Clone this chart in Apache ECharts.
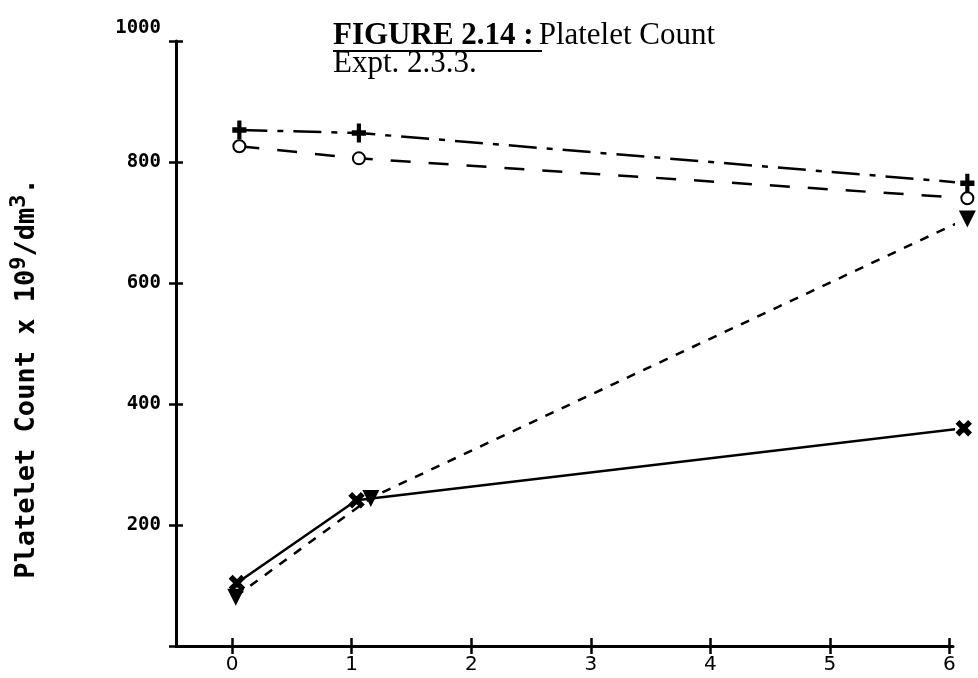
<!DOCTYPE html>
<html>
<head>
<meta charset="utf-8">
<title>Platelet Count</title>
<script src="https://cdn.jsdelivr.net/npm/echarts@6/dist/echarts.min.js"></script>
<style>
  html, body { margin: 0; padding: 0; background: #fff; }
  #chart { width: 978px; height: 678px; }
</style>
</head>
<body>
<div id="chart"></div>
<script>
// values (x = time, y = platelet count x 10^9/dm^3)
const xTicks = [0, 1, 2, 3, 4, 5, 6]
const yTicks = [0, 200, 400, 600, 800, 1000]

const plusPts = [[0.06, 853], [1.06, 848], [6.15, 765]]
const circlePts = [[0.06, 826], [1.06, 806], [6.15, 740]]
const trianglePts = [[0.03, 82], [1.16, 245], [6.15, 707]]
const crossPts = [[0.04, 104], [1.04, 241], [6.12, 360]]

const PLUS = 'path://M5,0H7V5H12V7H7V12H5V7H0V5H5Z'
const CROSS = 'path://M0,2L2,0L6,4L10,0L12,2L8,6L12,10L10,12L6,8L2,12L0,10L4,6Z'

const chart = echarts.init(document.getElementById('chart'))

const axisLine = { show: true, onZero: false, lineStyle: { color: '#000', width: 3 } }
const tickStyle = { color: '#000', width: 2.5 }

function lineSeries(data, symbol, size, dash, extra) {
  return Object.assign({
    type: 'line',
    data: data,
    symbol: symbol,
    symbolSize: size,
    clip: false,
    lineStyle: { color: '#000', width: 2.5, type: dash },
    itemStyle: { color: '#000', borderColor: '#000', borderWidth: 2.5 },
    emphasis: { disabled: true },
    z: 3
  }, extra || {})
}

const option = {
  backgroundColor: '#fff',
  animation: false,
  title: {
    left: 333,
    top: 22,
    padding: 0,
    text: '{b|FIGURE 2.14 :} {n|Platelet Count}\n{n|Expt. 2.3.3.}',
    textStyle: {
      rich: {
        b: { fontFamily: 'Liberation Serif', fontWeight: 'bold', fontSize: 31, lineHeight: 28, color: '#000' },
        n: { fontFamily: 'Liberation Serif', fontWeight: 'normal', fontSize: 31, lineHeight: 28, color: '#000' }
      }
    }
  },
  graphic: [{
    // underline of the figure number
    type: 'rect',
    shape: { x: 333, y: 50, width: 209, height: 2 },
    style: { fill: '#000' }
  }],
  grid: { left: 172, top: 41, right: 25, bottom: 32, containLabel: false },
  xAxis: [{
    type: 'value',
    min: -0.47,
    max: 6.03,
    axisLine: axisLine,
    splitLine: { show: false },
    axisTick: { show: true, customValues: xTicks, length: 8, lineStyle: tickStyle },
    axisLabel: {
      customValues: xTicks,
      margin: 9,
      color: '#000',
      fontFamily: 'DejaVu Sans',
      fontSize: 20
    }
  }, {
    type: 'value',
    position: 'bottom',
    min: -0.47,
    max: 6.03,
    axisLine: { show: false, onZero: false },
    splitLine: { show: false },
    axisTick: { show: true, inside: true, customValues: xTicks, length: 8, lineStyle: tickStyle },
    axisLabel: { show: false }
  }],
  yAxis: [{
    type: 'value',
    min: 0,
    max: 1000,
    interval: 200,
    axisLine: axisLine,
    splitLine: { show: false },
    axisTick: { show: true, length: 7, lineStyle: tickStyle },
    axisLabel: {
      margin: 15,
      formatter: v => v === 0 ? '' : (v === 1000 ? '{t|' + v + '}' : '{n|' + v + '}'),
      rich: {
        n: { fontFamily: 'DejaVu Sans Mono', fontWeight: 'bold', fontSize: 19, color: '#000' },
        t: { fontFamily: 'DejaVu Sans Mono', fontWeight: 'bold', fontSize: 19, color: '#000', padding: [0, 0, 26, 0] }
      }
    },
    name: '{t|Platelet Count x 10}{s|9}{t|/dm}{s|3}{t|.}',
    nameLocation: 'middle',
    nameRotate: 90,
    nameGap: 136,
    nameTextStyle: {
      padding: [0, 70, 0, 0],
      rich: {
        t: { fontFamily: 'DejaVu Sans Mono', fontWeight: 'bold', fontSize: 27, color: '#000', lineHeight: 32, verticalAlign: 'bottom' },
        s: { fontFamily: 'DejaVu Sans Mono', fontWeight: 'bold', fontSize: 22, color: '#000', lineHeight: 32, verticalAlign: 'top' }
      }
    }
  }, {
    type: 'value',
    position: 'left',
    min: 0,
    max: 1000,
    interval: 200,
    axisLine: { show: false, onZero: false },
    splitLine: { show: false },
    axisTick: { show: true, inside: true, length: 7, lineStyle: tickStyle },
    axisLabel: { show: false }
  }],
  series: [
    lineSeries(plusPts, PLUS, [12, 16], [28, 10, 6, 10]),
    lineSeries(circlePts, 'emptyCircle', 12, [20, 18], { itemStyle: { color: '#000', borderWidth: 2.5 } }),
    lineSeries(trianglePts, 'triangle', 13, [9, 9], { symbolRotate: 180 }),
    lineSeries(crossPts, CROSS, 13, 'solid')
  ]
}

chart.setOption(option)
</script>
</body>
</html>
